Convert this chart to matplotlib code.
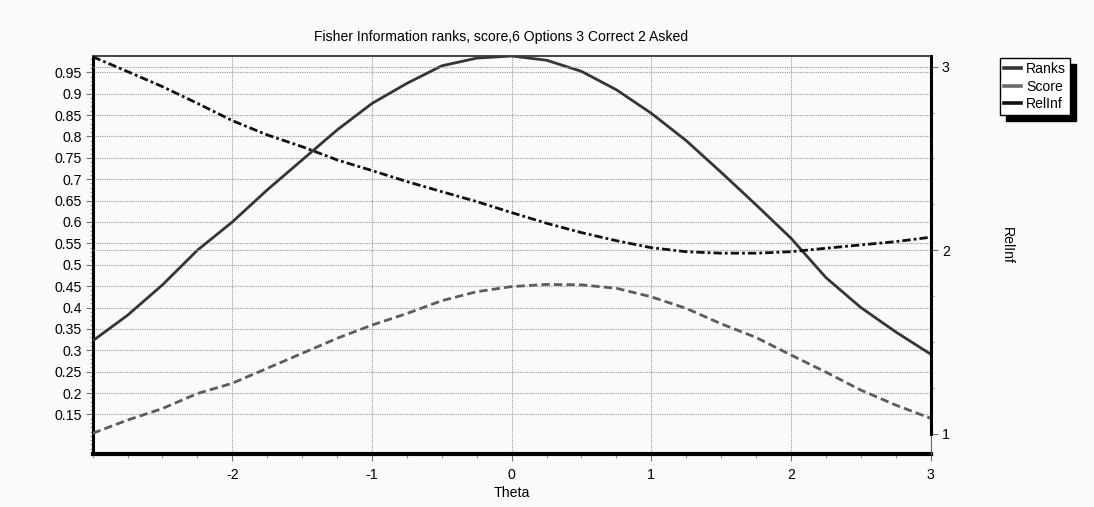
import matplotlib
matplotlib.use('Agg')
import matplotlib.pyplot as plt
from matplotlib.ticker import FixedLocator, MultipleLocator
from matplotlib.lines import Line2D

# ---------------- data ----------------
theta = [-3.0, -2.75, -2.5, -2.25, -2.0, -1.75, -1.5, -1.25, -1.0, -0.75, -0.5, -0.25,
         0.0, 0.25, 0.5, 0.75, 1.0, 1.25, 1.5, 1.75, 2.0, 2.25, 2.5, 2.75, 3.0]
ranks = [0.322, 0.382, 0.453, 0.534, 0.600, 0.675, 0.745, 0.815, 0.877, 0.924, 0.965, 0.983,
         0.988, 0.978, 0.952, 0.909, 0.854, 0.790, 0.716, 0.640, 0.562, 0.470, 0.400, 0.343, 0.291]
score = [0.106, 0.137, 0.164, 0.199, 0.223, 0.258, 0.293, 0.328, 0.359, 0.386, 0.416, 0.437,
         0.449, 0.454, 0.453, 0.445, 0.425, 0.398, 0.362, 0.330, 0.289, 0.249, 0.207, 0.172, 0.141]
relinf = [3.054, 2.973, 2.891, 2.800, 2.706, 2.628, 2.564, 2.492, 2.434, 2.374, 2.319, 2.265,
          2.205, 2.147, 2.096, 2.052, 2.014, 1.992, 1.984, 1.984, 1.992, 2.011, 2.029, 2.047, 2.071]

series_names = ["Ranks", "Score", "RelInf"]
title = "Fisher Information ranks, score,6 Options 3 Correct 2 Asked"
x_label = "Theta"
y2_label = "RelInf"
x_ticks = [-2, -1, 0, 1, 2, 3]
x_tick_labels = ["-2", "-1", "0", "1", "2", "3"]
left_ticks = [0.15, 0.2, 0.25, 0.3, 0.35, 0.4, 0.45, 0.5, 0.55, 0.6, 0.65, 0.7, 0.75, 0.8, 0.85, 0.9, 0.95]
left_tick_labels = ["0.15", "0.2", "0.25", "0.3", "0.35", "0.4", "0.45", "0.5", "0.55", "0.6",
                    "0.65", "0.7", "0.75", "0.8", "0.85", "0.9", "0.95"]
right_ticks = [1, 2, 3]
right_tick_labels = ["1", "2", "3"]

# ---------------- figure ----------------
plt.rcParams['font.family'] = ['Liberation Sans', 'DejaVu Sans']
BG = '#fafafa'
fig = plt.figure(figsize=(10.94, 5.07), dpi=100, facecolor=BG)
ax = fig.add_axes([0.0847, 0.104, 0.766, 0.7856])
ax.set_facecolor(BG)
ax2 = ax.twinx()

ax.set_xlim(-3, 3)
ax.set_ylim(0.057, 0.988)
ax2.set_ylim(0.889, 3.058)

grid_kw = dict(color='#9a9a9a', linewidth=0.8, linestyle=(0, (1, 1)))
ax.grid(True, which='major', **grid_kw)
for v in right_ticks[1:]:
    ax2.axhline(v, zorder=0.5, **grid_kw)

c_ranks, c_score, c_rel = '#353535', '#5c5c5c', '#111111'
ls_score = (0, (3, 1.5))
ls_rel = (0, (3, 1.1, 1.0, 1.1))
l1, = ax.plot(theta, ranks, color=c_ranks, linewidth=2.0, solid_joinstyle='round', zorder=3)
l2, = ax.plot(theta, score, color=c_score, linewidth=2.0, linestyle=ls_score, zorder=3)
l3, = ax2.plot(theta, relinf, color=c_rel, linewidth=2.0, linestyle=ls_rel, zorder=3)

# ticks
ax.xaxis.set_major_locator(FixedLocator(x_ticks))
ax.set_xticklabels(x_tick_labels)
ax.xaxis.set_minor_locator(MultipleLocator(0.25))
ax.yaxis.set_major_locator(FixedLocator(left_ticks))
ax.set_yticklabels(left_tick_labels)
ax.yaxis.set_minor_locator(MultipleLocator(0.01))
ax2.yaxis.set_major_locator(FixedLocator(right_ticks))
ax2.set_yticklabels(right_tick_labels)
ax2.yaxis.set_minor_locator(MultipleLocator(0.25))

FS = 10.2
ax.tick_params(axis='both', which='major', labelsize=FS, color='#777777', length=5, width=0.8)
ax.tick_params(axis='y', which='major', pad=3)
ax.tick_params(axis='x', which='major', pad=5)
ax.tick_params(axis='y', which='minor', color='#999999', length=2.5, width=0.8)
ax.tick_params(axis='x', which='minor', color='#999999', length=3, width=0.8)
ax2.tick_params(axis='y', which='major', labelsize=FS, color='#777777', length=5, width=0.8, pad=3)
ax2.tick_params(axis='y', which='minor', color='#999999', length=2, width=0.8)

# spines
ax.spines['left'].set_linewidth(2.2)
ax.spines['left'].set_color('black')
ax.spines['bottom'].set_linewidth(3)
ax.spines['bottom'].set_color('black')
ax.spines['top'].set_linewidth(1.4)
ax.spines['top'].set_color('#444444')
ax.spines['right'].set_visible(False)
for s in ['left', 'top', 'bottom']:
    ax2.spines[s].set_visible(False)
ax2.spines['right'].set_linewidth(2.2)
ax2.spines['right'].set_color('black')
ax2.spines['right'].set_bounds(1, 3.058)
ax2.axvline(3, ymin=0, ymax=(1 - 0.889) / (3.058 - 0.889), color='#666666', linewidth=0.8, clip_on=False)

# labels
ax.set_xlabel(x_label, fontsize=FS)
ax.xaxis.set_label_coords(0.5, -0.097)
ax.xaxis.label.set_va('center')
ax2.set_ylabel(y2_label, fontsize=FS, rotation=270, va='center', ha='center')
ax2.yaxis.set_label_coords(1.0905, 0.524)
fig.text(501 / 1094, 1 - 37 / 507, title, fontsize=10.1, ha='center', va='center')

# legend
handles = [Line2D([], [], color=c_ranks, linewidth=2.6),
           Line2D([], [], color='#6a6a6a', linewidth=2.6),
           Line2D([], [], color=c_rel, linewidth=2.6)]
leg = fig.legend(handles, series_names, loc='upper left',
                 bbox_to_anchor=(1000 / 1094, 1 - 58 / 507), borderaxespad=0,
                 frameon=True, fancybox=False, edgecolor='black', facecolor='white',
                 shadow={'ox': 4, 'oy': -4, 'facecolor': 'black', 'edgecolor': 'black', 'alpha': 1},
                 fontsize=10.1, handlelength=1.2, handletextpad=0.35, labelspacing=0.25,
                 borderpad=0.3)
leg.get_frame().set_linewidth(1.0)

fig.savefig('out.png', dpi=100, facecolor=BG)
